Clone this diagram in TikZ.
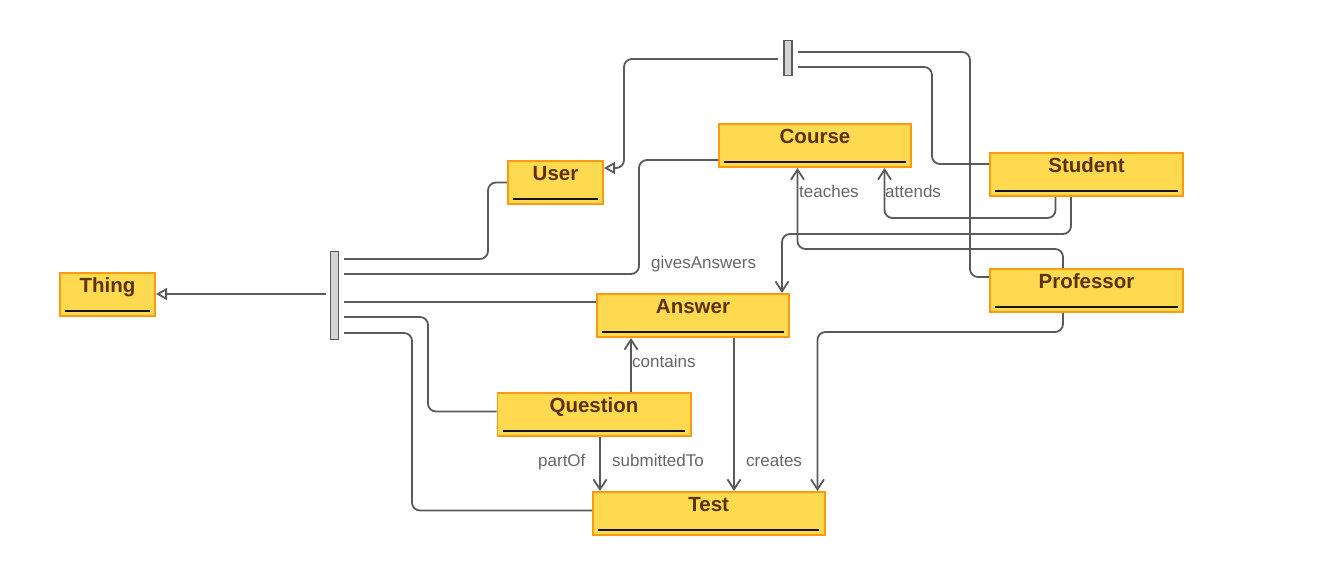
\documentclass[tikz,border=0pt]{standalone}
\usepackage{fontspec}
\setmainfont{Liberation Sans}
\usetikzlibrary{arrows.meta,calc}
\definecolor{boxfill}{HTML}{FFD94F}
\definecolor{boxdraw}{HTML}{FF9A0F}
\definecolor{boxtext}{HTML}{5C3300}
\definecolor{linecol}{HTML}{5A5A5A}
\definecolor{labcol}{HTML}{666666}
\definecolor{barfill}{HTML}{D3D3D3}
\tikzset{
  cls/.style={draw=boxdraw, fill=boxfill, line width=1.8pt, inner xsep=0pt, inner ysep=0pt,
    minimum height=43.2pt, text height=19.6pt, text depth=23.6pt, text=boxtext,
    font=\fontsize{20.5}{24}\selectfont\bfseries,
    path picture={\draw[black!92, line width=2pt]
      ([xshift=5.5pt,yshift=5.5pt]path picture bounding box.south west) --
      ([xshift=-5.5pt,yshift=5.5pt]path picture bounding box.south east);}},
  barbox/.style={draw=linecol, fill=barfill, line width=1.3pt, inner sep=0pt},
  conn/.style={draw=linecol, line width=1.8pt, rounded corners=8pt},
  assoc/.style={conn, -{Straight Barb[length=10pt,width=13pt]}},
  inh/.style={conn, -{Triangle[length=11pt,width=12pt,fill=white]}},
  lab/.style={text=labcol, font=\fontsize{17}{20}\selectfont, inner sep=0pt, anchor=base west}
}
\begin{document}
\begin{tikzpicture}[x=1pt,y=-1pt]
\useasboundingbox (0,0) rectangle (1325,583);

% class boxes
\node[cls, minimum width=95.2pt]  (thing)     at (107.5,294.5) {Thing};
\node[cls, minimum width=95.2pt]  (user)      at (555.5,182.5) {User};
\node[cls, minimum width=192.2pt] (course)    at (815,145.5)   {Course};
\node[cls, minimum width=193.2pt] (student)   at (1086.5,174.5) {Student};
\node[cls, minimum width=193.2pt] (professor) at (1086.5,290.5) {Professor};
\node[cls, minimum width=192.2pt] (answer)    at (693,315.5)   {Answer};
\node[cls, minimum width=193.2pt] (question)  at (594,414.5)   {Question};
\node[cls, minimum width=232.2pt] (test)      at (708.75,513.5) {Test};

% bars
\node[barbox, minimum width=8.5pt, minimum height=88pt] (barL) at (334.5,295.5) {};
\node[barbox, minimum width=8pt, minimum height=35pt]  (barT) at (788,58) {};

% connector free ends next to the bars
\coordinate (bl0) at (326,294);
\coordinate (bl1) at (344,259);
\coordinate (bl2) at (344,274);
\coordinate (bl3) at (344,302);
\coordinate (bl4) at (344,317);
\coordinate (bl5) at (344,333);
\coordinate (bt0) at (778,59);
\coordinate (bt1) at (798,52);
\coordinate (bt2) at (798,67);

% generalisation to Thing
\draw[inh] (bl0) -- (thing.east |- bl0);
\draw[conn] (bl1) -- (488,259) |- (user.west);
\draw[conn] (bl2) -- (639,274) |- ([yshift=-14.5pt]course.west);
\draw[conn] (bl3) -- (answer.west |- bl3);
\draw[conn] (bl4) -- (428,317) |- ([yshift=3pt]question.west);
\draw[conn] (bl5) -- (412,333) |- ([yshift=3pt]test.west);

% generalisation to User
\draw[inh] (bt0) -- (624,59) |- ([yshift=14.5pt]user.east);
\draw[conn] (bt1) -- (970,52) |- ([yshift=13.5pt]professor.west);
\draw[conn] (bt2) -- (932,67) |- ([yshift=10.5pt]student.west);

% associations
\draw[assoc] ([xshift=-31pt]student.south) -- ++(0,21) -| ([xshift=69.5pt]course.south);
\draw[assoc] ([xshift=-15.5pt]student.south) -- ++(0,37) -| ([xshift=89pt]answer.north);
\draw[assoc] ([xshift=-23.5pt]professor.north) -- ++(0,-19) -| ([xshift=-17.5pt]course.south);
\draw[assoc] ([xshift=-23.5pt]professor.south) -- ++(0,19) -| ([xshift=108.75pt]test.north);
\draw[assoc] ([xshift=41pt]answer.south) -- ([xshift=25.25pt]test.north);
\draw[assoc] ([xshift=37pt]question.north) -- ([xshift=-62pt]answer.south);
\draw[assoc] ([xshift=6pt]question.south) -- ([xshift=-108.75pt]test.north);

% labels
\node[lab] (lteaches) at (799,197) {teaches};
\node[lab] (lattends) at (885,197) {attends};
\node[lab] (lgives) at (651,268) {givesAnswers};
\node[lab] (lcontains) at (632,367) {contains};
\node[lab] (lpartof) at (538,466.5) {partOf};
\node[lab] (lsubmitted) at (612,466.5) {submittedTo};
\node[lab] (lcreates) at (746,466.5) {creates};
\end{tikzpicture}
\end{document}
